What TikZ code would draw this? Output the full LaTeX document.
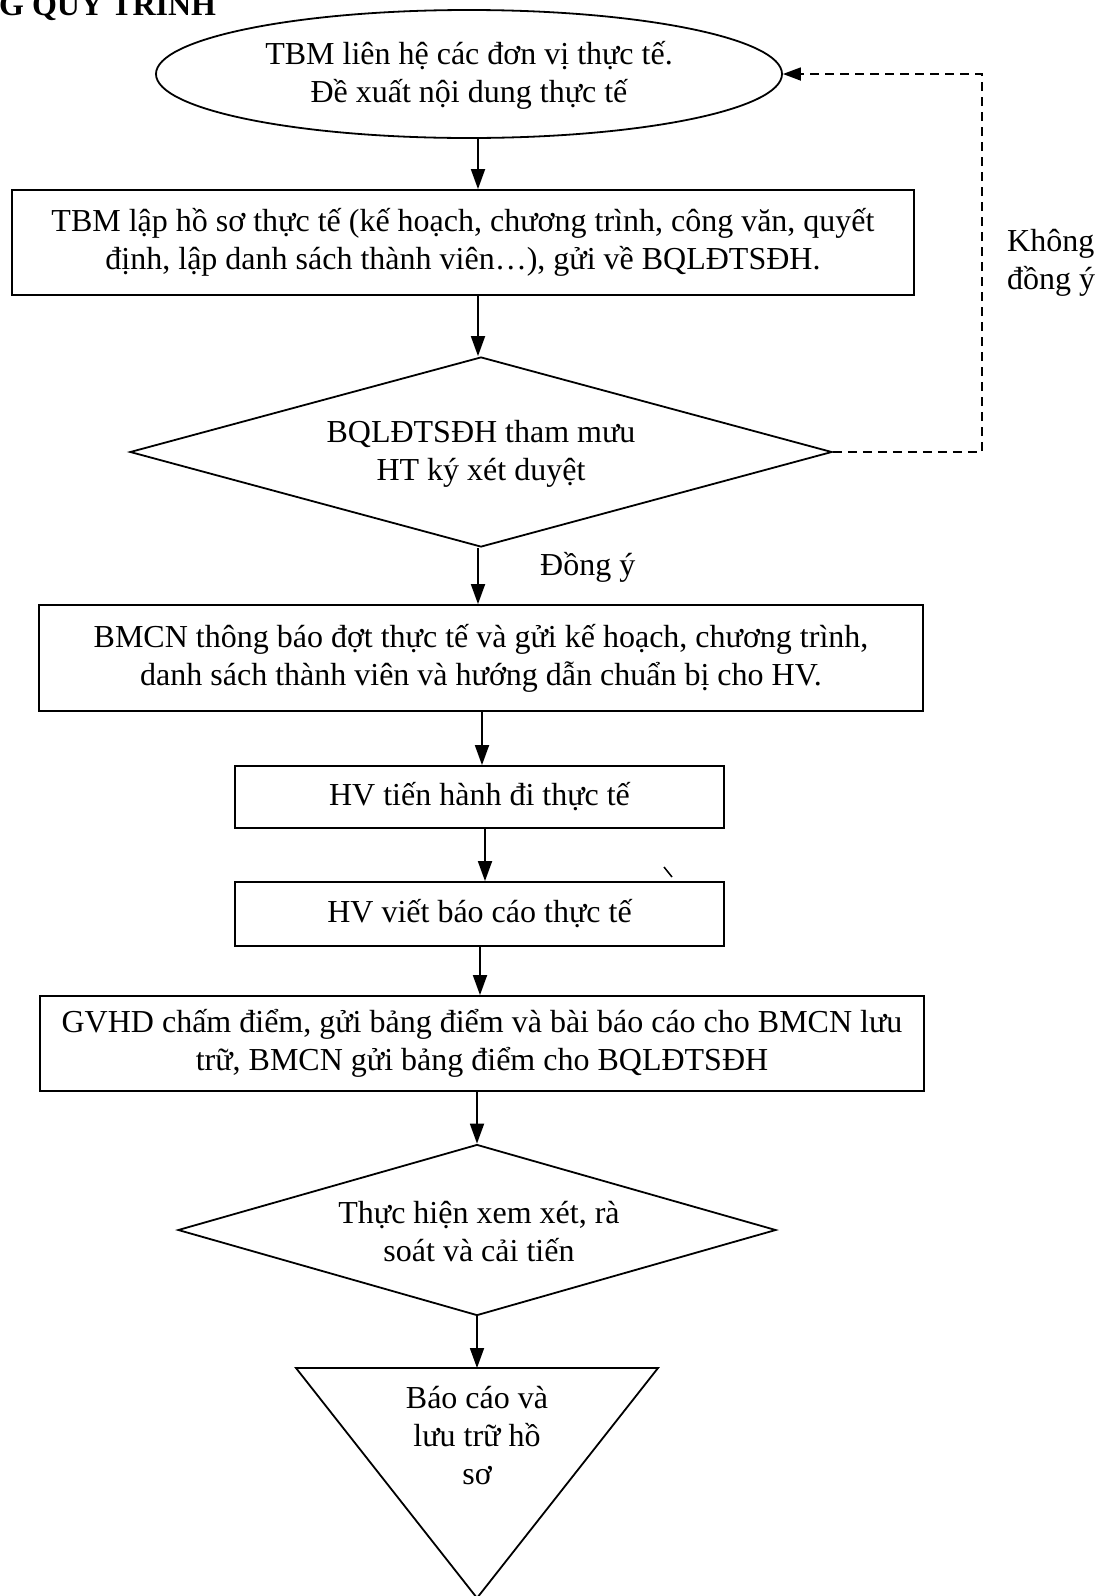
\documentclass[tikz,border=0pt]{standalone}
\usepackage{fontspec}
\setmainfont{Liberation Serif}
\usetikzlibrary{shapes.geometric,arrows.meta}
\begin{document}
\begin{tikzpicture}[x=1pt,y=-1pt,
  every node/.style={font=\fontsize{32}{38}\selectfont},
  boxnode/.style={draw, line width=1.8pt, align=center, inner sep=0pt},
  txt/.style={align=center, inner sep=0pt},
  arr/.style={line width=1.8pt, -{Triangle[length=20pt,width=14pt]}},
  dasharr/.style={line width=1.8pt, dash pattern=on 9pt off 6pt, -{Triangle[length=18pt,width=13pt]}}]
\useasboundingbox (0,0) rectangle (1112,1596);

% title
\node[anchor=base west, inner sep=0pt, font=\fontsize{32}{38}\selectfont\bfseries] (title) at (-1,15) {G QUY TRÌNH};

% start ellipse
\node[ellipse, draw, line width=1.8pt, minimum width=626pt, minimum height=128pt, inner sep=0pt] (ell) at (469,74) {};
\node[txt] (ellt) at (469,75) {TBM liên hệ các đơn vị thực tế.\\Đề xuất nội dung thực tế};

% box 2
\node[boxnode, minimum width=902pt, minimum height=105pt] (b2) at (463,242.5)
  {TBM lập hồ sơ thực tế (kế hoạch, chương trình, công văn, quyết\\định, lập danh sách thành viên…), gửi về BQLĐTSĐH.};

% diamond 1
\node[diamond, draw, line width=1.8pt, minimum width=702pt, minimum height=190pt, inner sep=0pt] (d1) at (481,452) {};
\node[txt] (d1t) at (481,454) {BQLĐTSĐH tham mưu\\HT ký xét duyệt};

% box 3
\node[boxnode, minimum width=884pt, minimum height=106pt] (b3) at (481,658)
  {BMCN thông báo đợt thực tế và gửi kế hoạch, chương trình,\\danh sách thành viên và hướng dẫn chuẩn bị cho HV.};

% box 4, 5
\node[boxnode, minimum width=489pt, minimum height=62pt] (b4) at (479.5,797) {HV tiến hành đi thực tế};
\node[boxnode, minimum width=489pt, minimum height=64pt] (b5) at (479.5,914) {HV viết báo cáo thực tế};

% box 6
\node[boxnode, minimum width=884pt, minimum height=95pt] (b6) at (482,1043.5)
  {GVHD chấm điểm, gửi bảng điểm và bài báo cáo cho BMCN lưu\\trữ, BMCN gửi bảng điểm cho BQLĐTSĐH};

% diamond 2
\node[diamond, draw, line width=1.8pt, minimum width=598pt, minimum height=171pt, inner sep=0pt] (d2) at (477,1230) {};
\node[txt] (d2t) at (479,1232) {Thực hiện xem xét, rà\\soát và cải tiến};

% end triangle
\coordinate (tl) at (296,1368);
\coordinate (tr) at (658,1368);
\coordinate (tb) at (477,1598);
\coordinate (tt) at (477,1368);
\draw[line width=1.8pt, line join=miter] (tl) -- (tr) -- (tb) -- cycle;
\node[txt] (trit) at (477,1436) {Báo cáo và\\lưu trữ hồ\\sơ};

% labels
\node[anchor=base west, inner sep=0pt] (yes) at (540,575) {Đồng ý};
\node[anchor=west, align=left, inner sep=0pt] (no) at (1007,263) {Không\\đồng ý};

% stray mark
\coordinate (m1) at (664,867);
\coordinate (m2) at (672,877);
\draw[line width=1.5pt] (m1) -- (m2);

% connectors
\coordinate (xa) at (478,0);
\coordinate (xb) at (482,0);
\coordinate (xc) at (485,0);
\coordinate (xd) at (480,0);
\coordinate (xe) at (477,0);
\draw[arr] (ell.south -| xa) -- (b2.north -| xa);
\draw[arr] (b2.south -| xa) -- (d1.north -| xa);
\draw[arr] (d1.south -| xa) -- (b3.north -| xa);
\draw[arr] (b3.south -| xb) -- (b4.north -| xb);
\draw[arr] (b4.south -| xc) -- (b5.north -| xc);
\draw[arr] (b5.south -| xd) -- (b6.north -| xd);
\draw[arr] (b6.south -| xe) -- (d2.north -| xe);
\draw[arr] (d2.south -| xe) -- (tt);

\coordinate (dr) at (982,452);
\coordinate (ur) at (982,74);
\draw[dasharr] (d1.east) -- (dr) -- (ur) -- (ell.east);
\end{tikzpicture}
\end{document}
